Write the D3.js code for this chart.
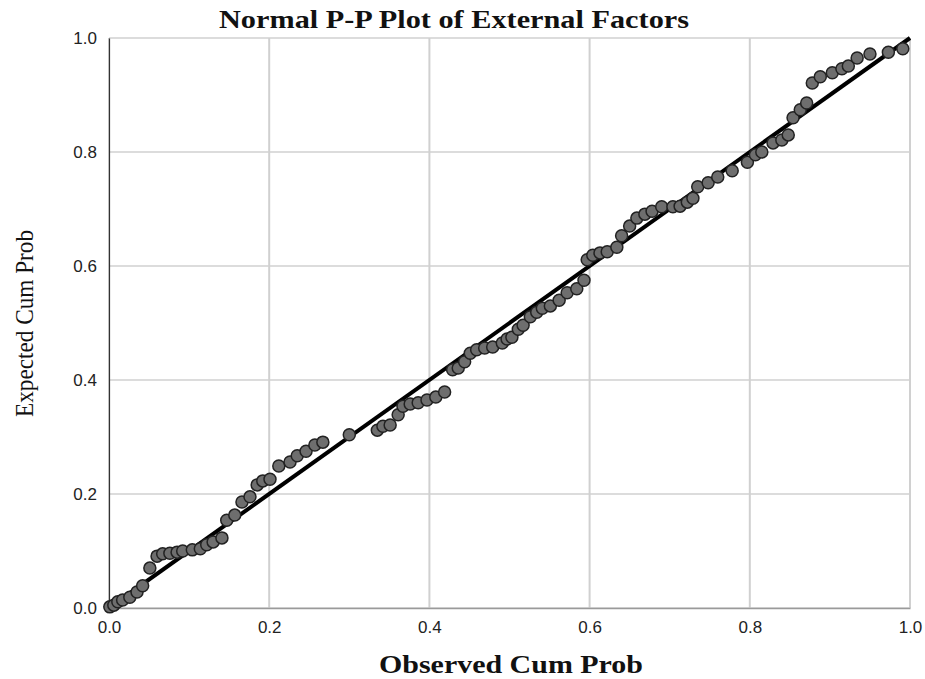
<!DOCTYPE html>
<html lang="en">
<head>
  <meta charset="utf-8" />
  <title>Normal P-P Plot of External Factors</title>
  <style type="text/css">
    body { margin: 0; background: #fff; }
    .tick-label { font-family: "Liberation Sans", Arial, sans-serif; font-size: 17px; fill: #222; }
    .axis-title { font-family: "Liberation Serif", "Times New Roman", serif; fill: #111; }
  </style>
</head>
<body>
  <div id="graphic"></div>

  <script src="https://cdn.jsdelivr.net/npm/d3@7/dist/d3.min.js" type="text/javascript"></script>
  <script>
    // observed cumulative probability (x) and expected cumulative probability (y)
    var observed = [0.001, 0.006, 0.011, 0.017, 0.026, 0.035, 0.042, 0.051, 0.060, 0.067,
      0.076, 0.085, 0.092, 0.104, 0.114, 0.122, 0.130, 0.141, 0.147, 0.157,
      0.166, 0.176, 0.185, 0.192, 0.201, 0.212, 0.226, 0.235, 0.246, 0.257,
      0.267, 0.300, 0.335, 0.342, 0.351, 0.361, 0.367, 0.376, 0.386, 0.397,
      0.408, 0.419, 0.429, 0.436, 0.444, 0.451, 0.459, 0.469, 0.479, 0.491,
      0.497, 0.503, 0.511, 0.517, 0.526, 0.534, 0.541, 0.551, 0.562, 0.572,
      0.584, 0.593, 0.597, 0.604, 0.613, 0.622, 0.634, 0.640, 0.650, 0.659,
      0.669, 0.678, 0.690, 0.704, 0.713, 0.722, 0.729, 0.735, 0.748, 0.760,
      0.778, 0.797, 0.807, 0.815, 0.829, 0.840, 0.848, 0.854, 0.863, 0.871,
      0.878, 0.888, 0.903, 0.915, 0.923, 0.934, 0.950, 0.973, 0.991];
    var expected = [0.002, 0.005, 0.011, 0.014, 0.019, 0.028, 0.039, 0.070, 0.091, 0.095,
      0.096, 0.098, 0.100, 0.102, 0.104, 0.111, 0.116, 0.123, 0.154, 0.163,
      0.186, 0.195, 0.216, 0.223, 0.226, 0.249, 0.256, 0.267, 0.275, 0.286,
      0.291, 0.304, 0.312, 0.319, 0.321, 0.339, 0.354, 0.358, 0.360, 0.365,
      0.370, 0.379, 0.418, 0.421, 0.432, 0.447, 0.453, 0.456, 0.458, 0.465,
      0.472, 0.475, 0.489, 0.496, 0.511, 0.519, 0.526, 0.530, 0.540, 0.553,
      0.560, 0.575, 0.611, 0.619, 0.623, 0.625, 0.633, 0.653, 0.670, 0.684,
      0.691, 0.696, 0.704, 0.704, 0.705, 0.712, 0.719, 0.739, 0.746, 0.756,
      0.767, 0.782, 0.795, 0.800, 0.816, 0.821, 0.830, 0.860, 0.874, 0.886,
      0.921, 0.932, 0.939, 0.946, 0.951, 0.965, 0.972, 0.975, 0.981];
    var tickValues = [0, 0.2, 0.4, 0.6, 0.8, 1.0];

    var width = 925, height = 679;
    var margin = {top: 38, right: 15, bottom: 71, left: 109};
    var plotW = width - margin.left - margin.right;
    var plotH = height - margin.top - margin.bottom;

    var svg = d3.select('#graphic').append('svg')
      .attr('width', width)
      .attr('height', height);

    var x = d3.scaleLinear().domain([0, 1]).range([0, plotW]);
    var y = d3.scaleLinear().domain([0, 1]).range([plotH, 0]);

    var g = svg.append('g')
      .attr('transform', 'translate(' + margin.left + ',' + margin.top + ')');

    // gridlines
    g.selectAll('line.vgrid')
      .data(tickValues)
      .enter().append('line')
      .attr('class', 'vgrid')
      .attr('x1', function(d) { return x(d); })
      .attr('x2', function(d) { return x(d); })
      .attr('y1', 0).attr('y2', plotH)
      .attr('stroke', '#d0d0d0')
      .attr('stroke-width', 2);

    g.selectAll('line.hgrid')
      .data(tickValues)
      .enter().append('line')
      .attr('class', 'hgrid')
      .attr('x1', 0).attr('x2', plotW)
      .attr('y1', function(d) { return y(d); })
      .attr('y2', function(d) { return y(d); })
      .attr('stroke', '#d0d0d0')
      .attr('stroke-width', 1.5);

    // axes
    var xAxis = g.append('g')
      .attr('transform', 'translate(0,' + plotH + ')')
      .call(d3.axisBottom(x).tickValues(tickValues).tickSize(0).tickPadding(13).tickFormat(d3.format('.1f')));
    xAxis.select('.domain').attr('stroke', '#9a9a9a').attr('stroke-width', 1.5);
    xAxis.selectAll('text').attr('class', 'tick-label').attr('fill', null);

    var yAxis = g.append('g')
      .call(d3.axisLeft(y).tickValues(tickValues).tickSize(0).tickPadding(12).tickFormat(d3.format('.1f')));
    yAxis.select('.domain').attr('stroke', '#333').attr('stroke-width', 1.2);
    yAxis.selectAll('text').attr('class', 'tick-label').attr('fill', null);

    // reference line
    g.append('line')
      .attr('x1', x(0)).attr('y1', y(0))
      .attr('x2', x(1)).attr('y2', y(1))
      .attr('stroke', '#000')
      .attr('stroke-width', 4);

    // points
    var points = observed.map(function(d, i) { return {o: d, e: expected[i]}; });
    g.selectAll('circle')
      .data(points)
      .enter().append('circle')
      .attr('cx', function(d) { return x(d.o); })
      .attr('cy', function(d) { return y(d.e); })
      .attr('r', 6)
      .attr('fill', '#6e6e6e')
      .attr('stroke', '#222')
      .attr('stroke-width', 1.5);

    // titles
    svg.append('text')
      .attr('class', 'axis-title')
      .attr('x', 219).attr('y', 28)
      .attr('textLength', 470).attr('lengthAdjust', 'spacingAndGlyphs')
      .style('font-size', '26px').style('font-weight', 'bold')
      .text('Normal P-P Plot of External Factors');

    svg.append('text')
      .attr('class', 'axis-title')
      .attr('x', 379).attr('y', 673)
      .attr('textLength', 264).attr('lengthAdjust', 'spacingAndGlyphs')
      .style('font-size', '25px').style('font-weight', 'bold')
      .text('Observed Cum Prob');

    svg.append('text')
      .attr('class', 'axis-title')
      .attr('transform', 'translate(33,417) rotate(-90)')
      .attr('textLength', 187).attr('lengthAdjust', 'spacingAndGlyphs')
      .style('font-size', '26px')
      .text('Expected Cum Prob');
  </script>
</body>
</html>
